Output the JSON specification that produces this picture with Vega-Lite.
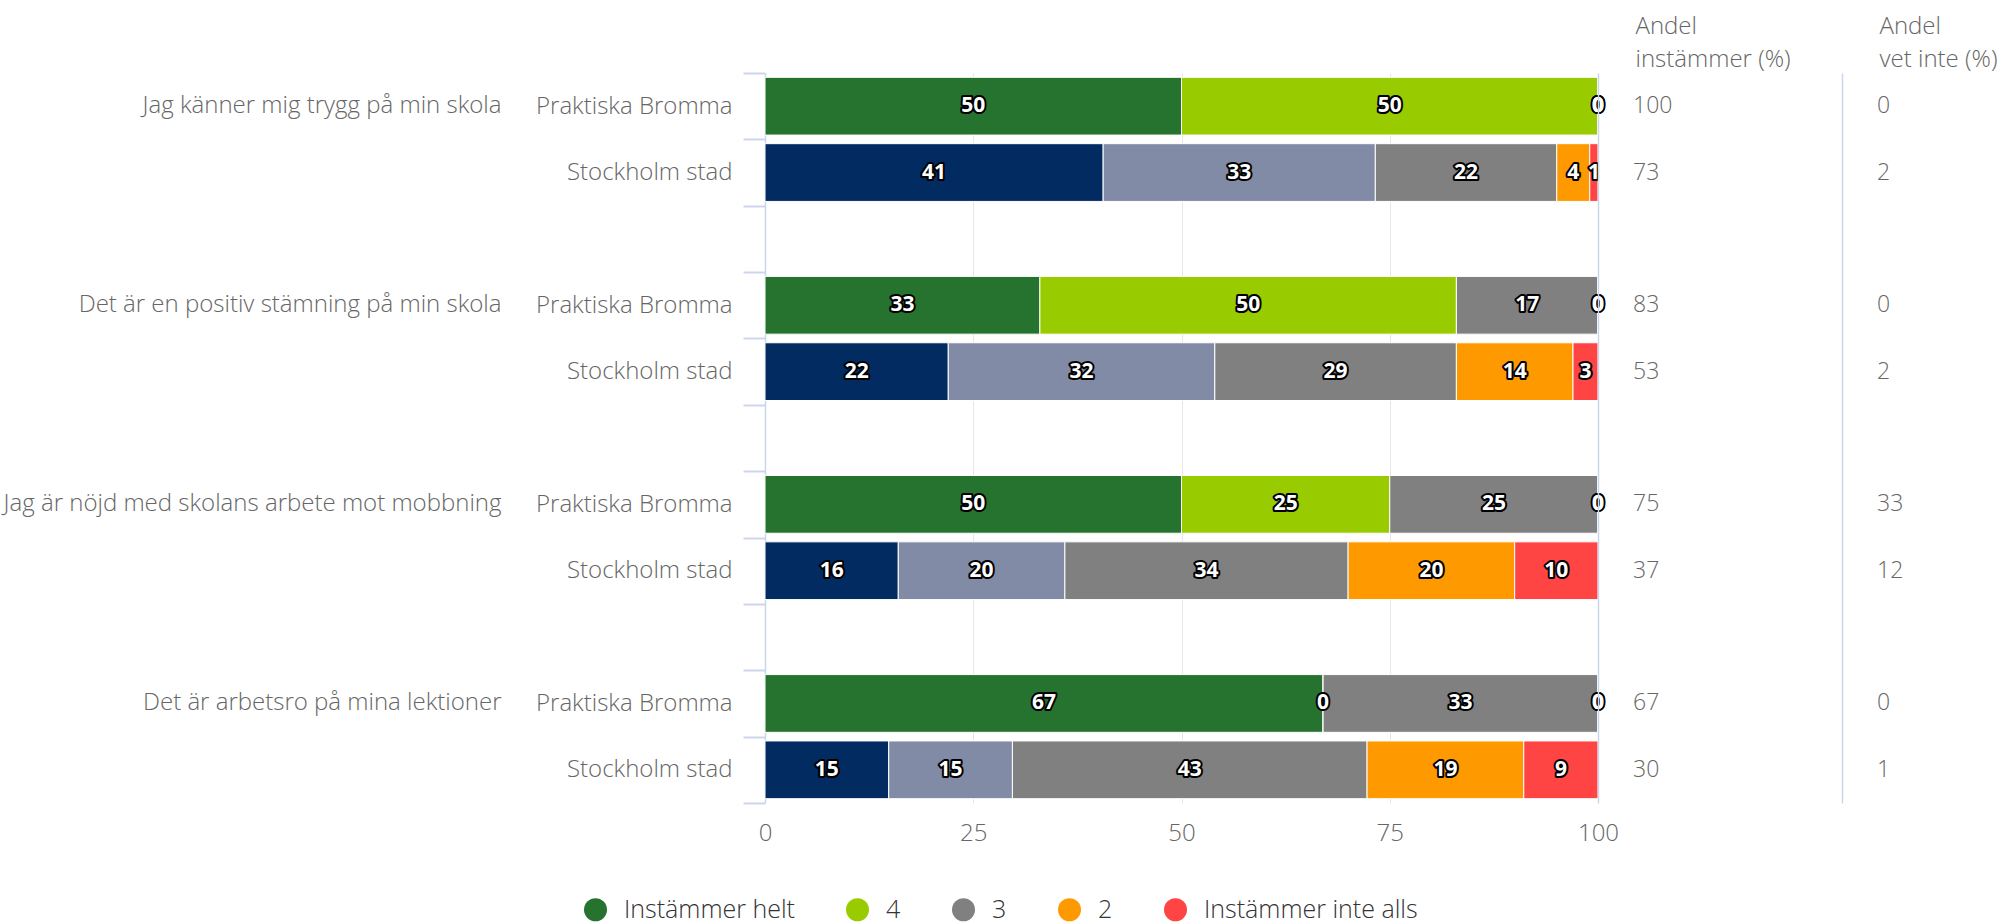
{
  "$schema": "https://vega.github.io/schema/vega-lite/v6.json",
  "background": "white",
  "padding": {"left": 3, "top": 14, "right": 5, "bottom": 5},
  "spacing": 0,
  "bounds": "flush",
  "config": {
    "view": {"stroke": null},
    "font": "Open Sans",
    "axis": {"labelFont": "Open Sans", "labelFontSize": 24, "labelColor": "#666666", "labelFontWeight": 300},
    "legend": {
      "direction": "horizontal", "columns": 5,
      "symbolType": "circle", "symbolSize": 530, "symbolStrokeWidth": 0,
      "labelFont": "Open Sans", "labelFontSize": 25, "labelColor": "#333333", "labelFontWeight": 300,
      "labelLimit": 400, "columnPadding": 50, "labelOffset": 16
    }
  },
  "datasets": {
    "bars": [
      {"question": "Jag känner mig trygg på min skola", "group": "Praktiska Bromma", "cat": "Instämmer helt", "score": 5, "value": 50},
      {"question": "Jag känner mig trygg på min skola", "group": "Praktiska Bromma", "cat": "4", "score": 4, "value": 50},
      {"question": "Jag känner mig trygg på min skola", "group": "Praktiska Bromma", "cat": "3", "score": 3, "value": 0},
      {"question": "Jag känner mig trygg på min skola", "group": "Praktiska Bromma", "cat": "2", "score": 2, "value": 0},
      {"question": "Jag känner mig trygg på min skola", "group": "Praktiska Bromma", "cat": "Instämmer inte alls", "score": 1, "value": 0},
      {"question": "Jag känner mig trygg på min skola", "group": "Stockholm stad", "cat": "Instämmer helt", "score": 5, "value": 41},
      {"question": "Jag känner mig trygg på min skola", "group": "Stockholm stad", "cat": "4", "score": 4, "value": 33},
      {"question": "Jag känner mig trygg på min skola", "group": "Stockholm stad", "cat": "3", "score": 3, "value": 22},
      {"question": "Jag känner mig trygg på min skola", "group": "Stockholm stad", "cat": "2", "score": 2, "value": 4},
      {"question": "Jag känner mig trygg på min skola", "group": "Stockholm stad", "cat": "Instämmer inte alls", "score": 1, "value": 1},
      {"question": "Det är en positiv stämning på min skola", "group": "Praktiska Bromma", "cat": "Instämmer helt", "score": 5, "value": 33},
      {"question": "Det är en positiv stämning på min skola", "group": "Praktiska Bromma", "cat": "4", "score": 4, "value": 50},
      {"question": "Det är en positiv stämning på min skola", "group": "Praktiska Bromma", "cat": "3", "score": 3, "value": 17},
      {"question": "Det är en positiv stämning på min skola", "group": "Praktiska Bromma", "cat": "2", "score": 2, "value": 0},
      {"question": "Det är en positiv stämning på min skola", "group": "Praktiska Bromma", "cat": "Instämmer inte alls", "score": 1, "value": 0},
      {"question": "Det är en positiv stämning på min skola", "group": "Stockholm stad", "cat": "Instämmer helt", "score": 5, "value": 22},
      {"question": "Det är en positiv stämning på min skola", "group": "Stockholm stad", "cat": "4", "score": 4, "value": 32},
      {"question": "Det är en positiv stämning på min skola", "group": "Stockholm stad", "cat": "3", "score": 3, "value": 29},
      {"question": "Det är en positiv stämning på min skola", "group": "Stockholm stad", "cat": "2", "score": 2, "value": 14},
      {"question": "Det är en positiv stämning på min skola", "group": "Stockholm stad", "cat": "Instämmer inte alls", "score": 1, "value": 3},
      {"question": "Jag är nöjd med skolans arbete mot mobbning", "group": "Praktiska Bromma", "cat": "Instämmer helt", "score": 5, "value": 50},
      {"question": "Jag är nöjd med skolans arbete mot mobbning", "group": "Praktiska Bromma", "cat": "4", "score": 4, "value": 25},
      {"question": "Jag är nöjd med skolans arbete mot mobbning", "group": "Praktiska Bromma", "cat": "3", "score": 3, "value": 25},
      {"question": "Jag är nöjd med skolans arbete mot mobbning", "group": "Praktiska Bromma", "cat": "2", "score": 2, "value": 0},
      {"question": "Jag är nöjd med skolans arbete mot mobbning", "group": "Praktiska Bromma", "cat": "Instämmer inte alls", "score": 1, "value": 0},
      {"question": "Jag är nöjd med skolans arbete mot mobbning", "group": "Stockholm stad", "cat": "Instämmer helt", "score": 5, "value": 16},
      {"question": "Jag är nöjd med skolans arbete mot mobbning", "group": "Stockholm stad", "cat": "4", "score": 4, "value": 20},
      {"question": "Jag är nöjd med skolans arbete mot mobbning", "group": "Stockholm stad", "cat": "3", "score": 3, "value": 34},
      {"question": "Jag är nöjd med skolans arbete mot mobbning", "group": "Stockholm stad", "cat": "2", "score": 2, "value": 20},
      {"question": "Jag är nöjd med skolans arbete mot mobbning", "group": "Stockholm stad", "cat": "Instämmer inte alls", "score": 1, "value": 10},
      {"question": "Det är arbetsro på mina lektioner", "group": "Praktiska Bromma", "cat": "Instämmer helt", "score": 5, "value": 67},
      {"question": "Det är arbetsro på mina lektioner", "group": "Praktiska Bromma", "cat": "4", "score": 4, "value": 0},
      {"question": "Det är arbetsro på mina lektioner", "group": "Praktiska Bromma", "cat": "3", "score": 3, "value": 33},
      {"question": "Det är arbetsro på mina lektioner", "group": "Praktiska Bromma", "cat": "2", "score": 2, "value": 0},
      {"question": "Det är arbetsro på mina lektioner", "group": "Praktiska Bromma", "cat": "Instämmer inte alls", "score": 1, "value": 0},
      {"question": "Det är arbetsro på mina lektioner", "group": "Stockholm stad", "cat": "Instämmer helt", "score": 5, "value": 15},
      {"question": "Det är arbetsro på mina lektioner", "group": "Stockholm stad", "cat": "4", "score": 4, "value": 15},
      {"question": "Det är arbetsro på mina lektioner", "group": "Stockholm stad", "cat": "3", "score": 3, "value": 43},
      {"question": "Det är arbetsro på mina lektioner", "group": "Stockholm stad", "cat": "2", "score": 2, "value": 19},
      {"question": "Det är arbetsro på mina lektioner", "group": "Stockholm stad", "cat": "Instämmer inte alls", "score": 1, "value": 9}
    ],
    "cols": [
      {"question": "Jag känner mig trygg på min skola", "group": "Praktiska Bromma", "measure": "Andel instämmer (%)", "value": 100},
      {"question": "Jag känner mig trygg på min skola", "group": "Praktiska Bromma", "measure": "Andel vet inte (%)", "value": 0},
      {"question": "Jag känner mig trygg på min skola", "group": "Stockholm stad", "measure": "Andel instämmer (%)", "value": 73},
      {"question": "Jag känner mig trygg på min skola", "group": "Stockholm stad", "measure": "Andel vet inte (%)", "value": 2},
      {"question": "Det är en positiv stämning på min skola", "group": "Praktiska Bromma", "measure": "Andel instämmer (%)", "value": 83},
      {"question": "Det är en positiv stämning på min skola", "group": "Praktiska Bromma", "measure": "Andel vet inte (%)", "value": 0},
      {"question": "Det är en positiv stämning på min skola", "group": "Stockholm stad", "measure": "Andel instämmer (%)", "value": 53},
      {"question": "Det är en positiv stämning på min skola", "group": "Stockholm stad", "measure": "Andel vet inte (%)", "value": 2},
      {"question": "Jag är nöjd med skolans arbete mot mobbning", "group": "Praktiska Bromma", "measure": "Andel instämmer (%)", "value": 75},
      {"question": "Jag är nöjd med skolans arbete mot mobbning", "group": "Praktiska Bromma", "measure": "Andel vet inte (%)", "value": 33},
      {"question": "Jag är nöjd med skolans arbete mot mobbning", "group": "Stockholm stad", "measure": "Andel instämmer (%)", "value": 37},
      {"question": "Jag är nöjd med skolans arbete mot mobbning", "group": "Stockholm stad", "measure": "Andel vet inte (%)", "value": 12},
      {"question": "Det är arbetsro på mina lektioner", "group": "Praktiska Bromma", "measure": "Andel instämmer (%)", "value": 67},
      {"question": "Det är arbetsro på mina lektioner", "group": "Praktiska Bromma", "measure": "Andel vet inte (%)", "value": 0},
      {"question": "Det är arbetsro på mina lektioner", "group": "Stockholm stad", "measure": "Andel instämmer (%)", "value": 30},
      {"question": "Det är arbetsro på mina lektioner", "group": "Stockholm stad", "measure": "Andel vet inte (%)", "value": 1}
    ]
  },
  "hconcat": [
    {
      "width": 833,
      "height": 730,
      "data": {"name": "bars"},
      "transform": [
        {"calculate": "datum.question + '|' + datum.group", "as": "key"},
        {"calculate": "datum.group + '|' + datum.cat", "as": "ck"},
        {"stack": "value", "groupby": ["key"], "sort": [{"field": "score", "order": "descending"}], "offset": "normalize", "as": ["x0", "x1"]},
        {"calculate": "(datum.x0 + datum.x1) / 2", "as": "xm"}
      ],
      "resolve": {"axis": {"y": "independent"}},
      "layer": [
        {
          "mark": {"type": "bar", "height": {"band": 0.87}, "stroke": "white", "strokeWidth": 1},
          "encoding": {
            "y": {
              "field": "key", "type": "nominal",
              "scale": {"domain": [
                "Jag känner mig trygg på min skola|Praktiska Bromma",
                "Jag känner mig trygg på min skola|Stockholm stad",
                "gap1",
                "Det är en positiv stämning på min skola|Praktiska Bromma",
                "Det är en positiv stämning på min skola|Stockholm stad",
                "gap2",
                "Jag är nöjd med skolans arbete mot mobbning|Praktiska Bromma",
                "Jag är nöjd med skolans arbete mot mobbning|Stockholm stad",
                "gap3",
                "Det är arbetsro på mina lektioner|Praktiska Bromma",
                "Det är arbetsro på mina lektioner|Stockholm stad"
              ], "paddingInner": 0, "paddingOuter": 0},
              "axis": {
                "title": null, "orient": "left",
                "labelExpr": "isString(datum.value) && indexof(datum.value, '|') >= 0 ? split(datum.value, '|')[1] : ''",
                "tickSize": 22, "tickColor": "#ccd6eb", "tickWidth": 2, "tickBand": "extent",
                "domainColor": "#ccd6eb", "domainWidth": 1.5, "labelPadding": 11, "labelLimit": 600
              }
            },
            "x": {
              "field": "x0", "type": "quantitative",
              "scale": {"domain": [0, 1], "nice": false},
              "axis": {
                "title": null, "values": [0, 0.25, 0.5, 0.75, 1],
                "labelExpr": "format(datum.value * 100, 'd')",
                "grid": true, "gridColor": "#e6e6e6", "ticks": false, "domain": false,
                "labelPadding": 18, "labelFlush": false
              }
            },
            "x2": {"field": "x1"},
            "color": {
              "field": "ck", "type": "nominal",
              "scale": {
                "domain": [
                  "Praktiska Bromma|Instämmer helt", "Praktiska Bromma|4", "Praktiska Bromma|3", "Praktiska Bromma|2", "Praktiska Bromma|Instämmer inte alls",
                  "Stockholm stad|Instämmer helt", "Stockholm stad|4", "Stockholm stad|3", "Stockholm stad|2", "Stockholm stad|Instämmer inte alls"
                ],
                "range": ["#26732f", "#99cc00", "#808080", "#ff9900", "#ff4444", "#022b62", "#828ba6", "#808080", "#ff9900", "#ff4444"]
              },
              "legend": {
                "title": null, "orient": "none", "legendX": -182, "legendY": 824,
                "values": ["Praktiska Bromma|Instämmer helt", "Praktiska Bromma|4", "Praktiska Bromma|3", "Praktiska Bromma|2", "Praktiska Bromma|Instämmer inte alls"],
                "labelExpr": "isString(datum.label) ? split(datum.label, '|')[1] : ''"
              }
            }
          }
        },
        {
          "mark": {"type": "text", "font": "Open Sans", "fontWeight": "bold", "fontSize": 21, "fill": "black", "stroke": "black", "strokeWidth": 4, "strokeJoin": "round"},
          "encoding": {
            "y": {"field": "key", "type": "nominal", "axis": null},
            "x": {"field": "xm", "type": "quantitative", "title": null},
            "text": {"field": "value", "type": "quantitative"}
          }
        },
        {
          "mark": {"type": "text", "font": "Open Sans", "fontWeight": "bold", "fontSize": 21, "fill": "white"},
          "encoding": {
            "y": {
              "field": "key", "type": "nominal",
              "axis": {
                "title": null, "orient": "left", "offset": 254, "labelPadding": 10,
                "ticks": false, "domain": false, "labelLimit": 700,
                "labelExpr": "isString(datum.value) && indexof(datum.value, '|Praktiska') >= 0 ? split(datum.value, '|')[0] : ''"
              }
            },
            "x": {"field": "xm", "type": "quantitative", "title": null},
            "text": {"field": "value", "type": "quantitative"}
          }
        }
      ]
    },
    {
      "width": 244,
      "height": 730,
      "data": {"name": "cols"},
      "transform": [
        {"calculate": "datum.question + '|' + datum.group", "as": "key"}
      ],
      "mark": {"type": "text", "align": "left", "dx": 35, "font": "Open Sans", "fontSize": 23, "fontWeight": 300, "fill": "#666666"},
      "encoding": {
        "y": {
          "field": "key", "type": "nominal",
          "scale": {"domain": [
            "Jag känner mig trygg på min skola|Praktiska Bromma",
            "Jag känner mig trygg på min skola|Stockholm stad",
            "gap1",
            "Det är en positiv stämning på min skola|Praktiska Bromma",
            "Det är en positiv stämning på min skola|Stockholm stad",
            "gap2",
            "Jag är nöjd med skolans arbete mot mobbning|Praktiska Bromma",
            "Jag är nöjd med skolans arbete mot mobbning|Stockholm stad",
            "gap3",
            "Det är arbetsro på mina lektioner|Praktiska Bromma",
            "Det är arbetsro på mina lektioner|Stockholm stad"
          ], "paddingInner": 0, "paddingOuter": 0},
          "axis": null
        },
        "x": {
          "field": "measure", "type": "nominal",
          "scale": {"type": "point", "padding": 0, "domain": ["Andel instämmer (%)", "Andel vet inte (%)"]},
          "axis": {
            "orient": "top", "title": null, "ticks": false, "domain": false,
            "grid": true, "gridColor": "#ccd6eb", "gridWidth": 1.5,
            "labelExpr": "isString(datum.label) ? ['Andel', substring(datum.label, 6)] : ''",
            "labelAlign": "left", "labelOffset": 37, "labelLineHeight": 33,
            "labelPadding": 35, "labelAngle": 0
          }
        },
        "text": {"field": "value", "type": "quantitative"}
      }
    }
  ]
}
